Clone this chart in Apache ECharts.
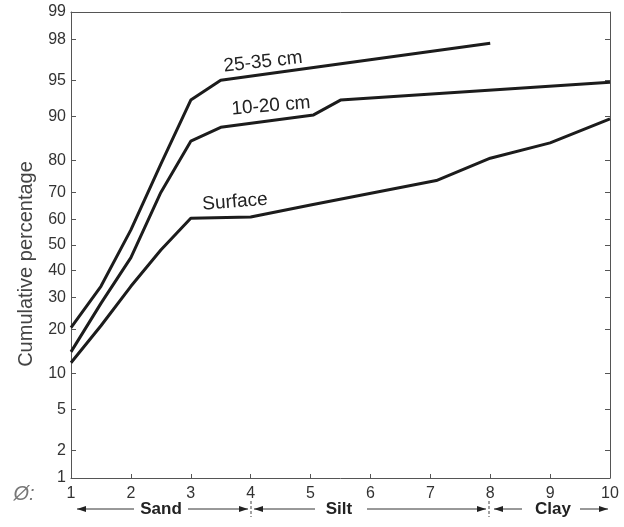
<!DOCTYPE html>
<html>
<head>
<meta charset="utf-8">
<script src="https://cdn.jsdelivr.net/npm/echarts@6/dist/echarts.min.js"></script>
<style>
  html, body { margin: 0; padding: 0; background: #fff; }
  #chart { width: 624px; height: 527px; }
</style>
</head>
<body>
<div id="chart"></div>
<script>
'use strict';
/* cumulative grain size curves on a probability scale */

// tick labels (percent) on the probability axis
var yTicks = [1, 2, 5, 10, 20, 30, 40, 50, 60, 70, 80, 90, 95, 98, 99];
var xTicks = [1, 2, 3, 4, 5, 6, 7, 8, 9, 10];

// 25-35 cm
var phi25 = [1, 1.5, 2, 2.5, 3, 3.5, 8];
var pct25 = [20.5, 34, 56, 79, 92.6, 95, 97.8];
// 10-20 cm
var phi10 = [1, 1.5, 2, 2.5, 3, 3.5, 5.05, 5.5, 10];
var pct10 = [14.3, 28, 45, 70, 85, 88, 90.3, 92.6, 94.8];
// surface
var phiSurf = [1, 1.5, 2, 2.5, 3, 4, 5, 7.1, 8, 9, 10];
var pctSurf = [12, 21, 34, 48, 60.5, 61, 65.5, 74, 80.7, 84.6, 89.6];

// inverse normal cdf (Acklam)
function probit(p) {
  var a = [-3.969683028665376e+01, 2.209460984245205e+02, -2.759285104469687e+02, 1.383577518672690e+02, -3.066479806614716e+01, 2.506628277459239e+00];
  var b = [-5.447609879822406e+01, 1.615858368580409e+02, -1.556989798598866e+02, 6.680131188771972e+01, -1.328068155288572e+01];
  var c = [-7.784894002430293e-03, -3.223964580411365e-01, -2.400758277161838e+00, -2.549732539343734e+00, 4.374664141464968e+00, 2.938163982698783e+00];
  var d = [7.784695709041462e-03, 3.224671290700398e-01, 2.445134137142996e+00, 3.754408661907416e+00];
  var pl = 0.02425, q, r;
  if (p < pl) {
    q = Math.sqrt(-2 * Math.log(p));
    return (((((c[0]*q+c[1])*q+c[2])*q+c[3])*q+c[4])*q+c[5]) / ((((d[0]*q+d[1])*q+d[2])*q+d[3])*q+1);
  }
  if (p > 1 - pl) {
    q = Math.sqrt(-2 * Math.log(1 - p));
    return -(((((c[0]*q+c[1])*q+c[2])*q+c[3])*q+c[4])*q+c[5]) / ((((d[0]*q+d[1])*q+d[2])*q+d[3])*q+1);
  }
  q = p - 0.5;
  r = q * q;
  return (((((a[0]*r+a[1])*r+a[2])*r+a[3])*r+a[4])*r+a[5])*q / (((((b[0]*r+b[1])*r+b[2])*r+b[3])*r+b[4])*r+1);
}

function toPairs(xs, ps) {
  var out = [];
  for (var i = 0; i < xs.length; i++) {
    out.push([xs[i], probit(ps[i] / 100)]);
  }
  return out;
}

var yTickZ = yTicks.map(function(p) { return probit(p / 100); });
var yMin = yTickZ[0];
var yMax = yTickZ[yTickZ.length - 1];

function tickLabel(v) {
  var best = 0;
  for (var i = 1; i < yTickZ.length; i++) {
    if (Math.abs(yTickZ[i] - v) < Math.abs(yTickZ[best] - v)) best = i;
  }
  return String(yTicks[best]);
}

var ink = '#1c1c1c';
var axisColor = '#555';
var font = '"Liberation Sans", Arial, sans-serif';

// arrows for the Sand / Silt / Clay row
function arrow(x1, x2, y, head) {
  var hx = head === 'left' ? x1 : x2;
  var s = head === 'left' ? 1 : -1;
  return [
    { type: 'line', shape: { x1: x1, y1: y, x2: x2, y2: y }, style: { stroke: '#333', lineWidth: 1 } },
    { type: 'polygon', shape: { points: [[hx, y], [hx + s * 9, y - 3], [hx + s * 9, y + 3]] }, style: { fill: '#222' } }
  ];
}

function label(text, x, y, size, weight, rot, color) {
  return {
    type: 'text', x: x, y: y, rotation: rot || 0,
    style: {
      text: text, font: (weight || 'normal') + ' ' + size + 'px ' + font,
      fill: color || '#222', align: 'center', verticalAlign: 'middle'
    }
  };
}

var rowY = 509;
var graphics = []
  .concat(arrow(77, 134, rowY, 'left'))
  .concat(arrow(188, 248, rowY, 'right'))
  .concat(arrow(254, 315, rowY, 'left'))
  .concat(arrow(367, 486, rowY, 'right'))
  .concat(arrow(494, 522, rowY, 'left'))
  .concat(arrow(580, 608, rowY, 'right'))
  .concat([
    { type: 'line', shape: { x1: 251, y1: 501, x2: 251, y2: 517 }, style: { stroke: '#444', lineWidth: 1, lineDash: [3, 2] } },
    { type: 'line', shape: { x1: 489, y1: 501, x2: 489, y2: 517 }, style: { stroke: '#444', lineWidth: 1, lineDash: [3, 2] } },
    label('Sand', 161, rowY, 17, 'bold'),
    label('Silt', 339, rowY, 17, 'bold'),
    label('Clay', 553, rowY, 17, 'bold'),
    label('Ø:', 24, 494, 20, 'italic', 0, '#777'),
    label('Cumulative percentage', 26, 264, 20, 'normal', Math.PI / 2, '#444'),
    label('25-35 cm', 263, 62, 19, 'normal', 0.11),
    label('10-20 cm', 271, 106, 19, 'normal', 0.08),
    label('Surface', 235, 202, 19, 'normal', 0.08)
  ]);

var lineStyle = { color: ink, width: 3 };

var chart = echarts.init(document.getElementById('chart'));
chart.setOption({
  animation: false,
  backgroundColor: '#fff',
  grid: { left: 71, right: 14, top: 12, bottom: 49 },
  xAxis: [{
    type: 'value', min: 1, max: 10, interval: 1,
    axisLine: { onZero: false, lineStyle: { color: axisColor, width: 1 } },
    axisTick: { inside: true, length: 4, lineStyle: { color: axisColor } },
    axisLabel: { fontSize: 16, color: '#333', margin: 8, fontFamily: font },
    splitLine: { show: false }
  }, {
    type: 'value', min: 1, max: 10, position: 'top',
    axisLine: { show: true, onZero: false, lineStyle: { color: axisColor, width: 1 } },
    axisTick: { show: false }, axisLabel: { show: false }, splitLine: { show: false }
  }],
  yAxis: [{
    type: 'value', min: yMin, max: yMax,
    axisLine: { show: true, onZero: false, lineStyle: { color: axisColor, width: 1 } },
    axisTick: { inside: true, length: 5, customValues: yTickZ, lineStyle: { color: axisColor } },
    axisLabel: { customValues: yTickZ, formatter: tickLabel, fontSize: 16, color: '#333', margin: 5, fontFamily: font },
    splitLine: { show: false }
  }, {
    type: 'value', min: yMin, max: yMax, position: 'right',
    axisLine: { show: true, onZero: false, lineStyle: { color: axisColor, width: 1 } },
    axisTick: { inside: true, length: 5, customValues: yTickZ, lineStyle: { color: axisColor } },
    axisLabel: { show: false },
    splitLine: { show: false }
  }],
  series: [
    { name: '25-35 cm', type: 'line', data: toPairs(phi25, pct25), symbol: 'none', lineStyle: lineStyle },
    { name: '10-20 cm', type: 'line', data: toPairs(phi10, pct10), symbol: 'none', lineStyle: lineStyle },
    { name: 'Surface', type: 'line', data: toPairs(phiSurf, pctSurf), symbol: 'none', lineStyle: lineStyle }
  ],
  graphic: graphics
});
</script>
</body>
</html>
